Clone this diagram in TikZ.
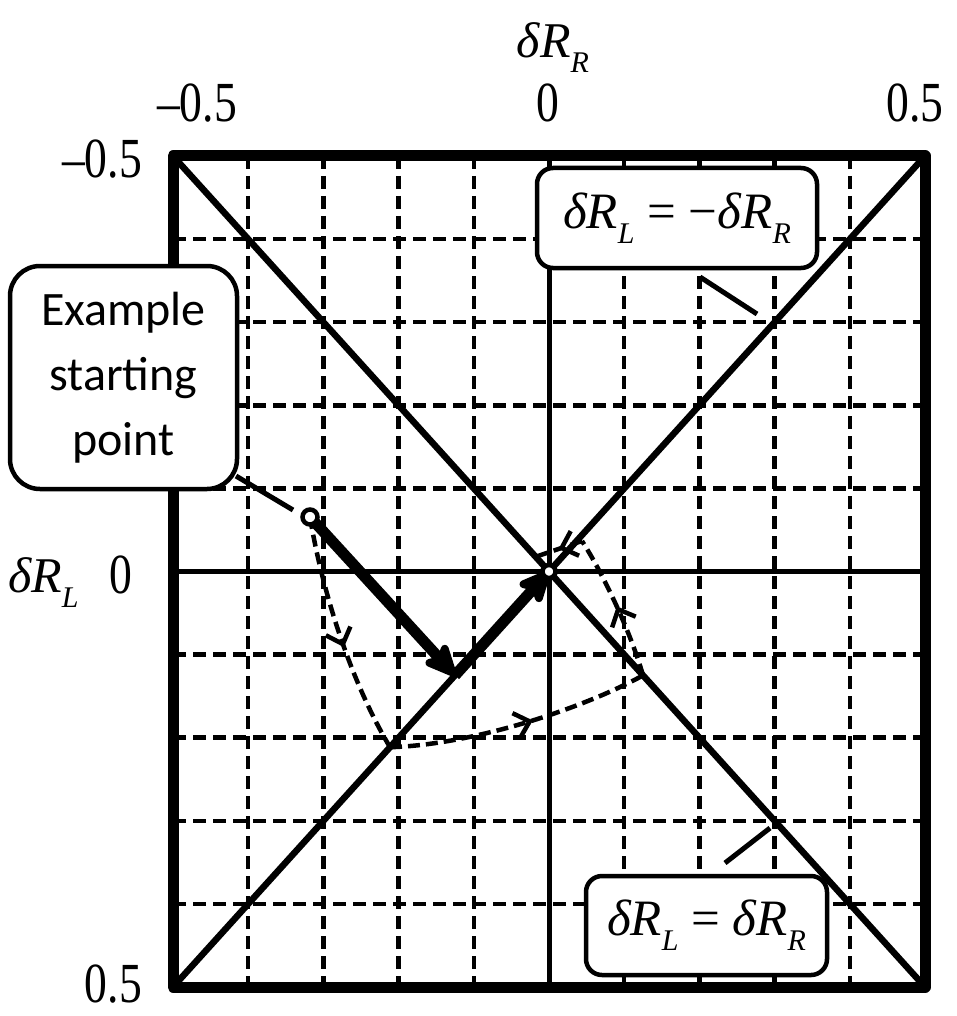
\documentclass[tikz,border=0pt]{standalone}
\usepackage{fontspec}
\setmainfont{Liberation Serif}
\newfontfamily\calfont{Carlito}
\usetikzlibrary{arrows.meta,decorations.markings}
\newcommand{\dR}[1]{\textit{δR}\raisebox{-0.3em}{\fontsize{30}{30}\selectfont\textit{#1}}}
\newcommand{\tallnum}[1]{\scalebox{0.95}[1.18]{#1}}
\tikzset{
  frameline/.style={line width=11pt, line join=round},
  gridline/.style={line width=4.5pt, dash pattern=on 13pt off 7pt},
  axisline/.style={line width=5pt},
  diagline/.style={line width=6.5pt},
  thickarrow/.style={line width=11pt, -{Stealth[length=40pt,width=36pt,inset=9pt,round]}},
  traj/.style={line width=4.5pt, dash pattern=on 12pt off 6pt, postaction={decorate},
    decoration={markings, mark=at position #1 with {\arrow[solid,line width=4.5pt]{Straight Barb[length=14pt,width=26pt]}}}},
  dotnode/.style={circle, draw, fill=white, line width=4.5pt, inner sep=0pt, minimum size=#1},
  labelbox/.style={draw, fill=white, rounded corners=#1, line width=4.5pt, inner sep=0pt},
  conn/.style={line width=5pt},
  numlab/.style={font=\fontsize{48}{58}\selectfont, inner sep=0pt},
}
\begin{document}
\begin{tikzpicture}[x=1pt,y=-1pt]
\useasboundingbox (0,0) rectangle (956,1016);
% grid
\foreach \k in {1,2,3,4,6,7,8,9} {
  \draw[gridline] ({173+75.2*\k},156) -- ({173+75.2*\k},987);
  \draw[gridline] (173,{156+83.1*\k}) -- (925,{156+83.1*\k});
}
\draw[axisline] (549,156) -- (549,987);
\draw[axisline] (173,571.5) -- (925,571.5);
\draw[diagline] (173,156) -- (925,987);
\draw[diagline] (173,987) -- (925,156);
\draw[frameline] (173,156) rectangle (925,987);
% trajectory points
\coordinate (S) at (310,517);
\coordinate (O) at (549,571.5);
\coordinate (A) at (455,675.4);
\coordinate (B) at (390,747.2);
\coordinate (C) at (643,675.4);
\coordinate (D) at (582,541);
\coordinate (E) at (535,557);
\draw[traj=0.55] (S) .. controls (322,590) and (350,680) .. (B);
\draw[traj=0.55] (B) .. controls (470,745) and (580,710) .. (C);
\draw[traj=0.5] (C) .. controls (630,630) and (602,572) .. (D);
\draw[traj=0.5] (D) -- (E);
\draw[thickarrow, shorten <=6pt] (S) -- (A);
\draw[thickarrow] (A) -- (O);
\node[dotnode=15pt] (Sdot) at (S) {};
\node[dotnode=13pt] (Odot) at (O) {};
% boxes
\node[labelbox=30pt, minimum width=227pt, minimum height=223pt,
  font=\calfont\fontsize{48}{65}\selectfont, align=center] (ex) at (123.5,377.5) {Example\\starting\\point};
\node[labelbox=16pt, minimum width=280pt, minimum height=100pt,
  font=\fontsize{51}{60}\selectfont] (neg) at (677,218) {\dR{L} = −\dR{R}};
\node[labelbox=16pt, minimum width=241pt, minimum height=99pt,
  font=\fontsize{51}{60}\selectfont] (pos) at (706.5,925.5) {\dR{L} = \dR{R}};
% connectors
\coordinate (e1) at (236,476);
\coordinate (e2) at (293,510);
\draw[conn] (e1) -- (e2);
\coordinate (n1) at (700,277);
\coordinate (n2) at (757,314);
\draw[conn] (n1) -- (n2);
\coordinate (p1) at (725,863);
\coordinate (p2) at (770,828);
\draw[conn] (p1) -- (p2);
% axis labels
\node[font=\fontsize{50}{60}\selectfont, anchor=base] (xlab) at (553,58) {\dR{R}};
\node[numlab, anchor=base] (t1) at (197,122) {\tallnum{–0.5}};
\node[numlab, anchor=base] (t2) at (548,122) {\tallnum{0}};
\node[numlab, anchor=base] (t3) at (915,122) {\tallnum{0.5}};
\node[numlab, anchor=base east] (l1) at (142,178) {\tallnum{–0.5}};
\node[numlab, anchor=base east] (l2) at (132,593) {\tallnum{0}};
\node[numlab, anchor=base east] (l3) at (142,1002) {\tallnum{0.5}};
\node[font=\fontsize{50}{60}\selectfont, anchor=base west, inner sep=0pt] (ylab) at (8,592) {\dR{L}};
\end{tikzpicture}
\end{document}
